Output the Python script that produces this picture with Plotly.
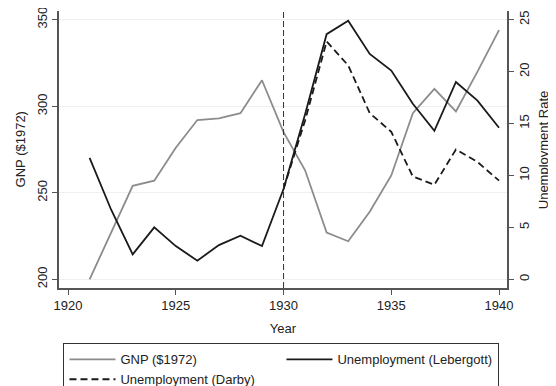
import plotly.graph_objects as go

years = list(range(1921, 1941))
gnp = [200, 227, 254, 257, 276, 292, 293, 296, 315, 285,
       263, 227, 222, 239, 260, 296, 310, 297, 320, 344]
unemp_lebergott = [11.7, 6.7, 2.4, 5.0, 3.2, 1.8, 3.3, 4.2, 3.2, 8.7,
                   15.9, 23.6, 24.9, 21.7, 20.1, 16.9, 14.3, 19.0, 17.2, 14.6]
darby_years = list(range(1930, 1941))
unemp_darby = [8.7, 15.3, 22.9, 20.6, 16.0, 14.2, 9.9, 9.1, 12.5, 11.3, 9.5]

FONT = "Liberation Sans, Arial, sans-serif"
AXIS_COL = "#555555"
TXT = dict(family=FONT, size=13, color="#222222")

fig = go.Figure()

fig.add_trace(go.Scatter(x=years, y=gnp, name="GNP ($1972)", mode="lines",
                         line=dict(color="#8c8c8c", width=1.8), yaxis="y"))
fig.add_trace(go.Scatter(x=years, y=unemp_lebergott, name="Unemployment (Lebergott)",
                         mode="lines", line=dict(color="#1a1a1a", width=1.8), yaxis="y2"))
fig.add_trace(go.Scatter(x=darby_years, y=unemp_darby, name="Unemployment (Darby)",
                         mode="lines", line=dict(color="#1a1a1a", width=1.8, dash="7px,4px"),
                         yaxis="y2"))

# vertical marker at 1930
fig.add_shape(type="line", xref="x", yref="paper", x0=1930, x1=1930, y0=0, y1=1,
              line=dict(color="#333333", width=1, dash="6px,3px"))

# y axis titles placed by hand
fig.add_annotation(text="GNP ($1972)", xref="paper", yref="paper", x=-0.085, y=0.5,
                   textangle=-90, showarrow=False, font=TXT,
                   xanchor="center", yanchor="middle")
fig.add_annotation(text="Unemployment Rate", xref="paper", yref="paper", x=1.082, y=0.5,
                   textangle=-90, showarrow=False, font=TXT,
                   xanchor="center", yanchor="middle")

# page body has an 8px margin, so the figure is 8px smaller than the window
fig.update_layout(
    width=548, height=378,
    margin=dict(l=51, r=49, t=3, b=98, autoexpand=False),
    paper_bgcolor="white", plot_bgcolor="white",
    font=TXT,
    showlegend=True,
    xaxis=dict(
        range=[1919.58, 1940.37], tickvals=[1920, 1925, 1930, 1935, 1940],
        ticks="outside", ticklen=5, tickcolor=AXIS_COL,
        showline=True, linecolor=AXIS_COL, linewidth=1.5,
        showgrid=False, zeroline=False,
        title=dict(text="Year", font=TXT, standoff=12),
    ),
    yaxis=dict(
        range=[195, 355], tickvals=[200, 250, 300, 350], tickangle=-90,
        ticklabeloverflow="allow",
        ticks="outside", ticklen=5, tickcolor=AXIS_COL,
        showline=True, linecolor=AXIS_COL, linewidth=1.5,
        showgrid=True, gridcolor="#f0f0f0", gridwidth=1, zeroline=False,
    ),
    yaxis2=dict(
        range=[-0.8333, 25.8333], tickvals=[0, 5, 10, 15, 20, 25], tickangle=-90,
        ticklabeloverflow="allow",
        overlaying="y", side="right",
        ticks="outside", ticklen=5, tickcolor=AXIS_COL,
        showline=True, linecolor=AXIS_COL, linewidth=1.5,
        showgrid=False, zeroline=False,
    ),
    legend=dict(
        orientation="h", x=0.01, xanchor="left", y=-0.2, yanchor="top",
        entrywidth=156, entrywidthmode="pixels", itemwidth=46,
        bordercolor="#333333", borderwidth=1, bgcolor="white",
        font=TXT, traceorder="normal",
    ),
)

fig.write_html("out.html")
